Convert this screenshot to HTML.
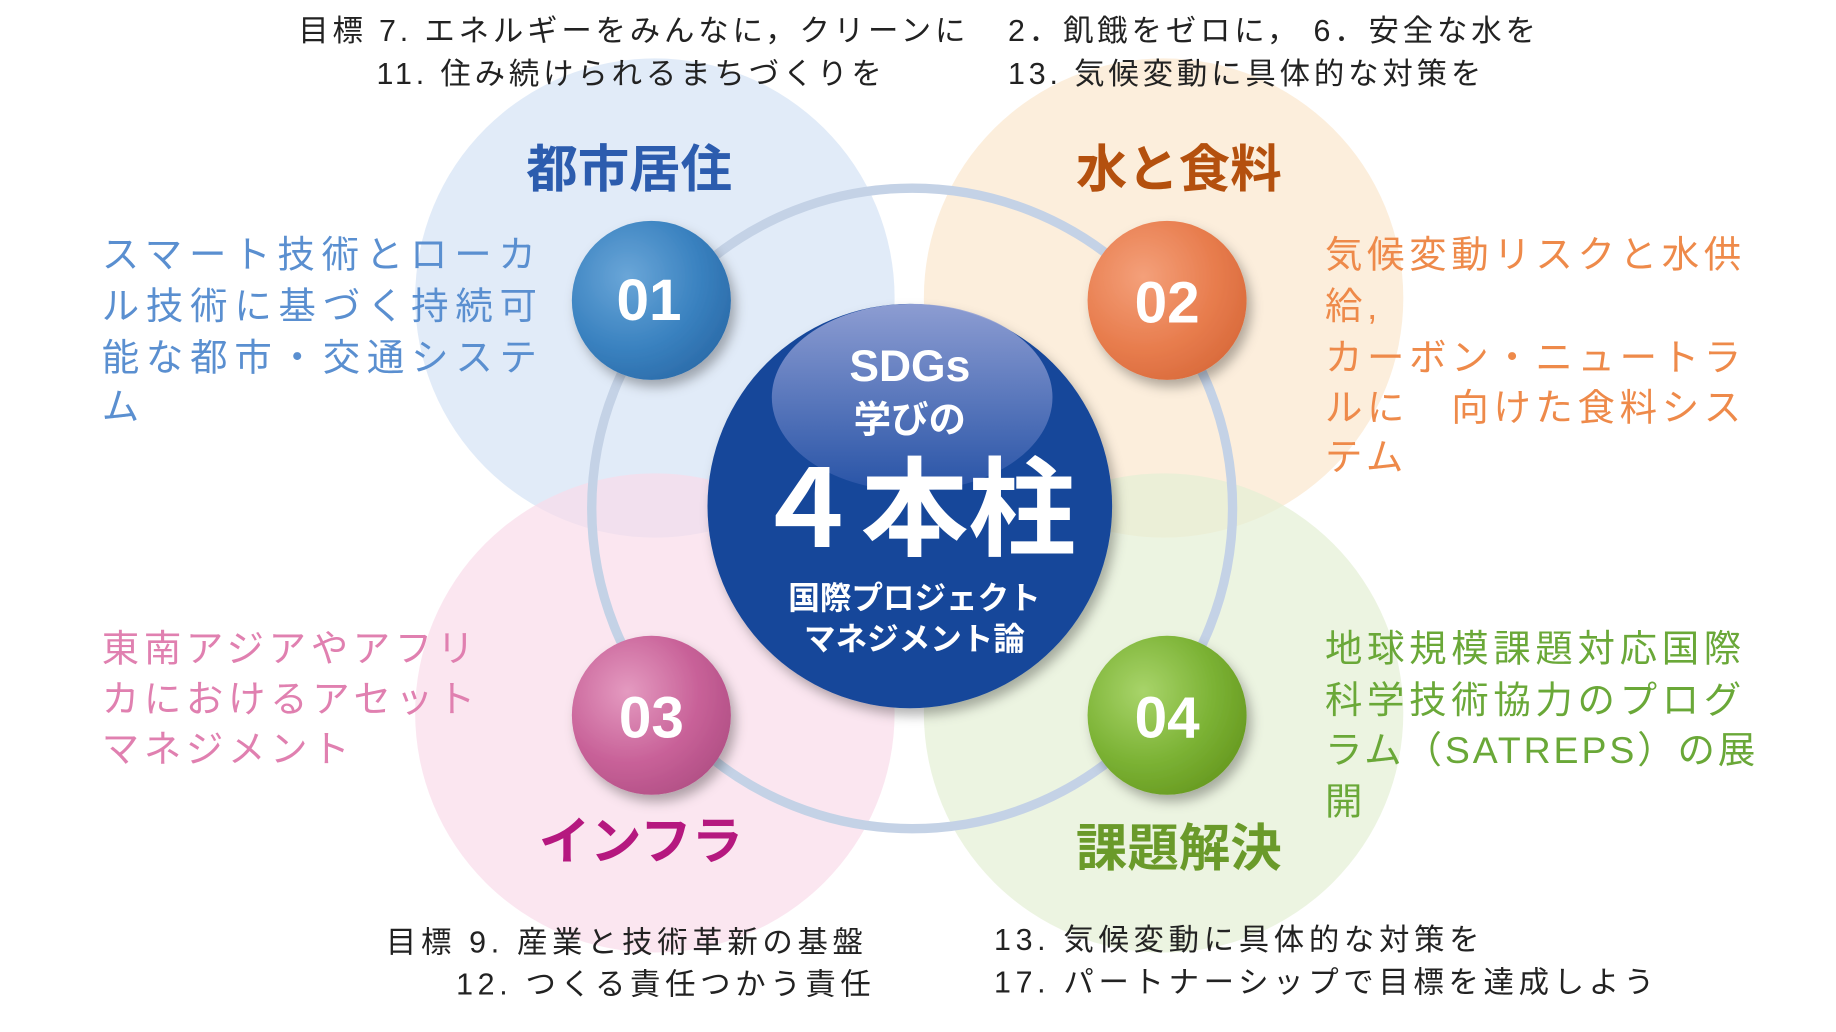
<!DOCTYPE html>
<html><head><meta charset="utf-8"><style>
html,body{margin:0;padding:0;background:#fff;width:1836px;height:1032px;overflow:hidden}
svg{display:block}
text{font-family:"Liberation Sans","Noto Sans CJK JP",sans-serif}
</style></head><body>
<svg width="1836" height="1032" viewBox="0 0 1570 883" preserveAspectRatio="none" xmlns="http://www.w3.org/2000/svg">
<defs>
<radialGradient id="gb" cx="0.35" cy="0.35" r="0.75"><stop offset="0" stop-color="#6aa6d8"/><stop offset="0.6" stop-color="#3a82c0"/><stop offset="1" stop-color="#2a6aa8"/></radialGradient>
<radialGradient id="go" cx="0.35" cy="0.35" r="0.75"><stop offset="0" stop-color="#f4a07a"/><stop offset="0.6" stop-color="#e87d4e"/><stop offset="1" stop-color="#d8693a"/></radialGradient>
<radialGradient id="gp" cx="0.35" cy="0.35" r="0.75"><stop offset="0" stop-color="#e49ac0"/><stop offset="0.6" stop-color="#c86198"/><stop offset="1" stop-color="#b04e84"/></radialGradient>
<radialGradient id="gg" cx="0.35" cy="0.35" r="0.75"><stop offset="0" stop-color="#a8d46a"/><stop offset="0.6" stop-color="#7bb234"/><stop offset="1" stop-color="#66981f"/></radialGradient>
<linearGradient id="hl" x1="0" y1="0" x2="0" y2="1"><stop offset="0" stop-color="#9aa6d8"/><stop offset="1" stop-color="#2a55a8"/></linearGradient>
<filter id="sh" x="-30%" y="-30%" width="160%" height="160%"><feDropShadow dx="4" dy="6" stdDeviation="5" flood-color="#000" flood-opacity="0.3"/></filter>
</defs>
<circle cx="560" cy="255" r="205" fill="#dce8f7" opacity="0.85"/>
<circle cx="995" cy="255" r="205" fill="#fcebd6" opacity="0.85"/>
<circle cx="560" cy="610" r="205" fill="#f9dcea" opacity="0.7"/>
<circle cx="995" cy="610" r="205" fill="#e4f0d4" opacity="0.7"/>
<circle cx="780" cy="435" r="274" fill="none" stroke="#c4d2e6" stroke-width="8"/>
<circle cx="778" cy="433" r="173" fill="#16479a" filter="url(#sh)"/>
<ellipse cx="780" cy="340" rx="120" ry="80" fill="url(#hl)" opacity="0.9"/>
<g filter="url(#sh)">
<circle cx="557" cy="257" r="68" fill="url(#gb)"/>
<circle cx="998" cy="257" r="68" fill="url(#go)"/>
<circle cx="557" cy="612" r="68" fill="url(#gp)"/>
<circle cx="998" cy="612" r="68" fill="url(#gg)"/>
</g>
<g fill="#fff" font-weight="bold" font-size="50" text-anchor="middle">
<text x="555" y="274">01</text><text x="998" y="276">02</text><text x="557" y="631">03</text><text x="998" y="631">04</text>
</g>
<g fill="#fff" font-weight="bold" text-anchor="middle">
<text x="778" y="326" font-size="38">SDGs</text>
<text x="778" y="370" font-size="32">学びの</text>
<text x="782" y="468" font-size="92">４本柱</text>
<text x="782" y="521" font-size="27">国際プロジェクト</text>
<text x="782" y="556" font-size="27">マネジメント論</text>
</g>
<g font-weight="bold" font-size="44" text-anchor="middle">
<text x="538" y="160" fill="#2c5cae">都市居住</text>
<text x="1008" y="160" fill="#b4500e">水と食料</text>
<text x="548" y="735" fill="#b5187f">インフラ</text>
<text x="1008" y="741" fill="#6a9a2a">課題解決</text>
</g>
<g font-size="32" letter-spacing="4">
<g fill="#5a8fd0" letter-spacing="5.8"><text x="87" y="229">スマート技術とローカ</text><text x="87" y="273">ル技術に基づく持続可</text><text x="87" y="317">能な都市・交通システ</text><text x="87" y="359">ム</text></g>
<g fill="#ee8a4a"><text x="1133" y="229">気候変動リスクと水供</text><text x="1133" y="273">給,</text><text x="1133" y="317">カーボン・ニュートラ</text><text x="1133" y="360">ルに　向けた食料シス</text><text x="1133" y="402">テム</text></g>
<g fill="#e080b0"><text x="87" y="566">東南アジアやアフリ</text><text x="87" y="609">カにおけるアセット</text><text x="87" y="652">マネジメント</text></g>
<g fill="#6aa838"><text x="1133" y="566">地球規模課題対応国際</text><text x="1133" y="610">科学技術協力のプログ</text><text x="1133" y="653" letter-spacing="2.5">ラム（SATREPS）の展</text><text x="1133" y="697">開</text></g>
</g>
<g fill="#222" font-size="26" letter-spacing="3.3">
<text x="255" y="35">目標 7. エネルギーをみんなに，クリーンに</text>
<text x="862" y="35">2．飢餓をゼロに，  6．安全な水を</text>
<text x="322" y="72">11.  住み続けられるまちづくりを</text>
<text x="862" y="72">13.  気候変動に具体的な対策を</text>
<g letter-spacing="4"><text x="330" y="815">目標 9.  産業と技術革新の基盤</text>
<text x="390" y="851">12.  つくる責任つかう責任</text>
<text x="850" y="813">13.  気候変動に具体的な対策を</text>
<text x="850" y="849">17.  パートナーシップで目標を達成しよう</text></g>
</g>
</svg>
</body></html>
